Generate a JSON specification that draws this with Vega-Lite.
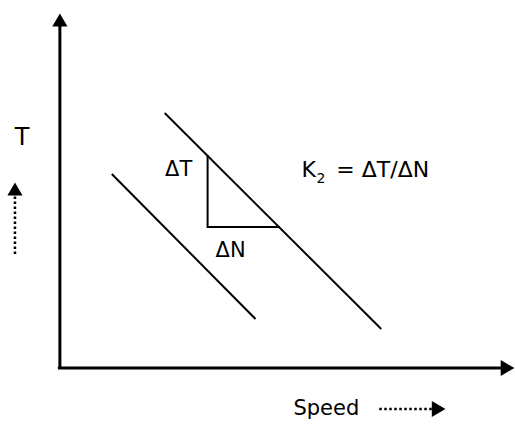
{
  "$schema": "https://vega.github.io/schema/vega-lite/v6.json",
  "width": 515,
  "height": 430,
  "padding": 0,
  "autosize": {"type": "fit", "contains": "padding"},
  "background": "white",
  "config": {"view": {"stroke": null}},
  "encoding": {
    "x": {"field": "x", "type": "quantitative", "scale": {"domain": [-60, 455], "nice": false, "zero": false}, "axis": null},
    "y": {"field": "y", "type": "quantitative", "scale": {"domain": [-62, 368], "nice": false, "zero": false}, "axis": null}
  },
  "layer": [
    {
      "data": {"values": [
        {"seg": "yaxis", "ord": 1, "x": 0, "y": 0},
        {"seg": "yaxis", "ord": 2, "x": 0, "y": 342},
        {"seg": "xaxis", "ord": 1, "x": -2, "y": 0},
        {"seg": "xaxis", "ord": 2, "x": 446, "y": 0}
      ]},
      "mark": {"type": "line", "color": "black", "strokeWidth": 3},
      "encoding": {"detail": {"field": "seg"}, "order": {"field": "ord"}}
    },
    {
      "data": {"values": [
        {"seg": "left", "ord": 1, "x": 52, "y": 194},
        {"seg": "left", "ord": 2, "x": 196, "y": 49},
        {"seg": "right", "ord": 1, "x": 105, "y": 255},
        {"seg": "right", "ord": 2, "x": 322, "y": 39}
      ]},
      "mark": {"type": "line", "color": "black", "strokeWidth": 2},
      "encoding": {"detail": {"field": "seg"}, "order": {"field": "ord"}}
    },
    {
      "data": {"values": [
        {"ord": 1, "x": 148, "y": 213},
        {"ord": 2, "x": 148, "y": 141},
        {"ord": 3, "x": 220, "y": 141}
      ]},
      "mark": {"type": "line", "color": "black", "strokeWidth": 2},
      "encoding": {"order": {"field": "ord"}}
    },
    {
      "data": {"values": [
        {"seg": "up", "ord": 1, "x": -45, "y": 114},
        {"seg": "up", "ord": 2, "x": -45, "y": 172},
        {"seg": "right", "ord": 1, "x": 320, "y": -41},
        {"seg": "right", "ord": 2, "x": 373, "y": -41}
      ]},
      "mark": {"type": "line", "color": "black", "strokeWidth": 2.5, "strokeDash": [2.5, 2.5]},
      "encoding": {"detail": {"field": "seg"}, "order": {"field": "ord"}}
    },
    {
      "data": {"values": [
        {"x": 0, "y": 348},
        {"x": -45, "y": 179}
      ]},
      "mark": {"type": "point", "shape": "triangle-up", "filled": true, "color": "black", "opacity": 1, "size": 230}
    },
    {
      "data": {"values": [
        {"x": 448.5, "y": 0},
        {"x": 379.5, "y": -41}
      ]},
      "mark": {"type": "point", "shape": "triangle-right", "filled": true, "color": "black", "opacity": 1, "size": 250}
    },
    {
      "data": {"values": [
        {"x": -38, "y": 230, "label": "T"}
      ]},
      "mark": {"type": "text", "font": "DejaVu Sans", "fontSize": 24, "color": "black", "align": "center", "baseline": "middle"},
      "encoding": {"text": {"field": "label"}}
    },
    {
      "data": {"values": [
        {"x": 119, "y": 198, "label": "ΔT"},
        {"x": 171, "y": 117, "label": "ΔN"},
        {"x": 267, "y": -41, "label": "Speed"}
      ]},
      "mark": {"type": "text", "font": "DejaVu Sans", "fontSize": 21, "color": "black", "align": "center", "baseline": "middle"},
      "encoding": {"text": {"field": "label"}}
    },
    {
      "data": {"values": [
        {"x": 242, "y": 198, "label": "K"},
        {"x": 277, "y": 198, "label": "= ΔT/ΔN"}
      ]},
      "mark": {"type": "text", "font": "DejaVu Sans", "fontSize": 22, "color": "black", "align": "left", "baseline": "middle"},
      "encoding": {"text": {"field": "label"}}
    },
    {
      "data": {"values": [
        {"x": 257, "y": 189, "label": "2"}
      ]},
      "mark": {"type": "text", "font": "DejaVu Sans", "fontSize": 14, "color": "black", "align": "left", "baseline": "middle"},
      "encoding": {"text": {"field": "label"}}
    }
  ]
}
